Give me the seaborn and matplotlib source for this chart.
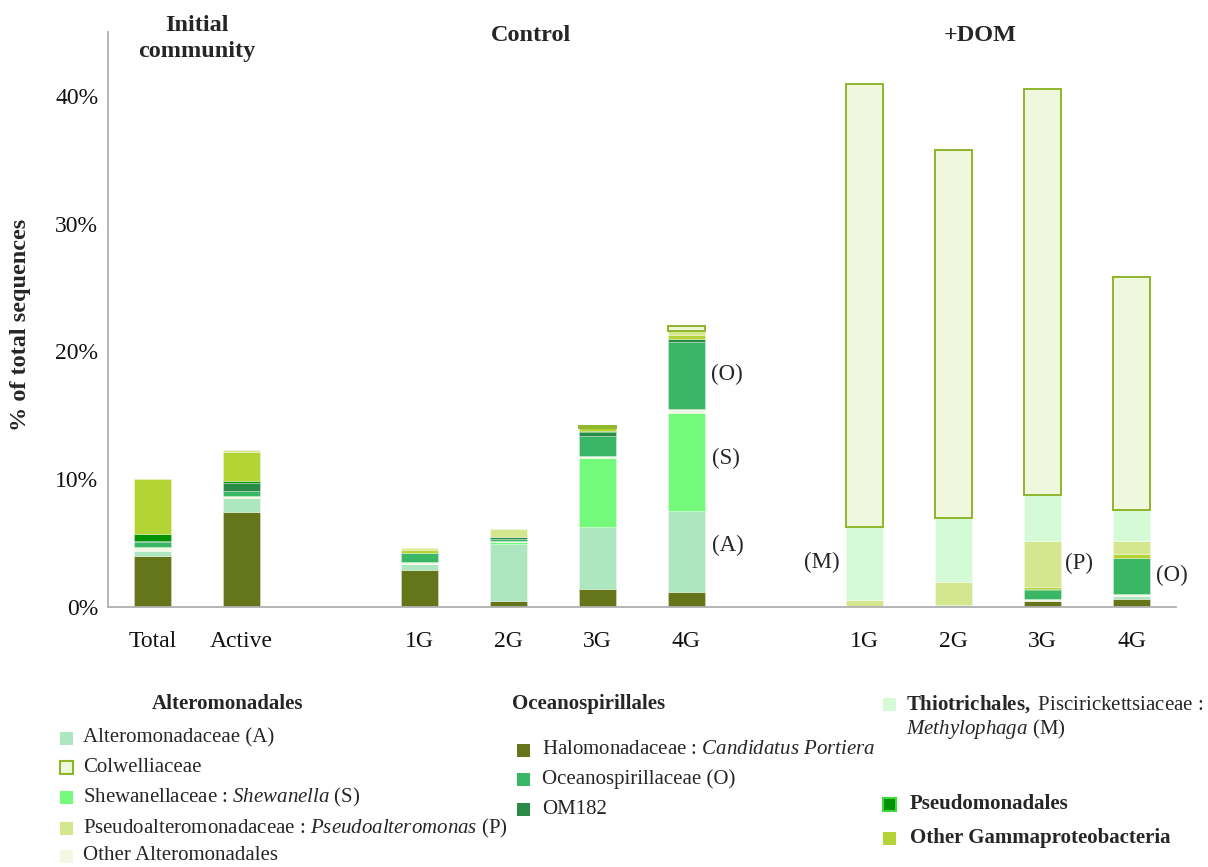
import numpy as np
import pandas as pd
import matplotlib
matplotlib.use("Agg")
import matplotlib.pyplot as plt
from matplotlib.patches import Rectangle
from matplotlib.colors import to_rgba
import seaborn as sns

# Bar slots (12 slots, two of them left empty as spacers)
slot_pos = [0, 1, 3, 4, 5, 6, 8, 9, 10, 11]
slot_labels = ["Total", "Active", "1G", "2G", "3G", "4G", "1G", "2G", "3G", "4G"]

# Taxa in stacking order (bottom -> top)
taxa = ["Halomonadaceae", "Alteromonadaceae", "Shewanellaceae", "Other Alteromonadales",
        "Oceanospirillaceae", "OM182", "Pseudomonadales", "Other Gammaproteobacteria",
        "Pseudoalteromonadaceae", "Methylophaga", "Colwelliaceae"]

# % of total sequences, one value per bar (Total, Active, Control 1G-4G, +DOM 1G-4G)
halomonadaceae = [4.0, 7.45, 2.9, 0.45, 1.4, 1.2, 0.0, 0.0, 0.5, 0.6]
alteromonadaceae = [0.4, 1.05, 0.5, 4.45, 4.85, 6.3, 0.0, 0.15, 0.0, 0.25]
shewanellaceae = [0.0, 0.05, 0.0, 0.18, 5.4, 7.7, 0.0, 0.0, 0.0, 0.0]
other_alteromonadales = [0.3, 0.1, 0.15, 0.06, 0.18, 0.26, 0.0, 0.0, 0.15, 0.2]
oceanospirillaceae = [0.35, 0.45, 0.7, 0.2, 1.55, 5.3, 0.0, 0.0, 0.65, 2.8]
om182 = [0.1, 0.57, 0.0, 0.1, 0.3, 0.2, 0.0, 0.0, 0.0, 0.0]
pseudomonadales = [0.6, 0.23, 0.0, 0.0, 0.1, 0.0, 0.0, 0.0, 0.13, 0.0]
other_gamma = [4.25, 2.2, 0.25, 0.0, 0.2, 0.3, 0.0, 0.0, 0.1, 0.26]
pseudoalteromonadaceae = [0.0, 0.2, 0.1, 0.7, 0.0, 0.35, 0.55, 1.8, 3.65, 1.05]
methylophaga = [0.0, 0.0, 0.0, 0.0, 0.0, 0.0, 5.7, 5.0, 3.57, 2.47]
colwelliaceae = [0.0, 0.0, 0.0, 0.0, 0.2, 0.4, 34.7, 28.8, 31.8, 18.2]

series = [halomonadaceae, alteromonadaceae, shewanellaceae, other_alteromonadales,
          oceanospirillaceae, om182, pseudomonadales, other_gamma,
          pseudoalteromonadaceae, methylophaga, colwelliaceae]

colors = {
    "Halomonadaceae": "#65761a",
    "Alteromonadaceae": "#ade7c0",
    "Shewanellaceae": "#74fa7a",
    "Other Alteromonadales": "#f3f8e2",
    "Oceanospirillaceae": "#3ab764",
    "OM182": "#2a8a48",
    "Pseudomonadales": "#009200",
    "Other Gammaproteobacteria": "#b3d434",
    "Pseudoalteromonadaceae": "#d4e78e",
    "Methylophaga": "#d4fbd6",
    "Colwelliaceae": "#eff7dd",
}
colwellia_edge = "#8fb52c"

rows = []
for name, vals in zip(taxa, series):
    for p, v in zip(slot_pos, vals):
        rows.append({"pos": p, "taxon": name, "pct": v})
df = pd.DataFrame(rows)

sns.set_style("white")
plt.rcParams["font.family"] = ["Liberation Serif", "DejaVu Serif"]
plt.rcParams["mathtext.fontset"] = "custom"
plt.rcParams["mathtext.rm"] = "Liberation Serif"
plt.rcParams["mathtext.it"] = "Liberation Serif:italic"
plt.rcParams["mathtext.bf"] = "Liberation Serif:bold"

W, H = 1208, 867
fig = plt.figure(figsize=(W / 100, H / 100), dpi=100)
ax = fig.add_axes([108 / W, 1 - 607 / H, (1176 - 108) / W, (607 - 32) / H])

# seaborn stacks the first hue level on top, so pass the order reversed
sns.histplot(data=df, x="pos", weights="pct", hue="taxon", hue_order=taxa[::-1],
             multiple="stack", discrete=True, shrink=0.42, palette=colors,
             alpha=1, linewidth=0, legend=False, ax=ax)

col_rgba = to_rgba(colors["Colwelliaceae"])
for patch in ax.patches:
    if patch.get_height() <= 0:
        continue
    if np.allclose(patch.get_facecolor(), col_rgba, atol=0.01):
        patch.set_edgecolor(colwellia_edge)
        patch.set_linewidth(1.4)
    else:
        patch.set_edgecolor((1, 1, 1, 0.35))
        patch.set_linewidth(0.6)

ax.set_xlim(-0.5, 11.5)
ax.set_ylim(0, 45)
ax.set_yticks([0, 10, 20, 30, 40])
ax.set_yticklabels(["0%", "10%", "20%", "30%", "40%"])
ax.set_xticks(slot_pos)
ax.set_xticklabels(slot_labels)
ax.set_xticks(np.arange(-0.5, 12, 1), minor=True)
ax.tick_params(axis="x", which="major", length=0, pad=17, labelsize=17, colors="#111111")
ax.tick_params(axis="x", which="minor", length=6, width=1, color="#aaaaaa", direction="out")
ax.tick_params(axis="y", length=4, width=1, color="#aaaaaa", direction="out", pad=3,
               labelsize=17, labelcolor="#111111")
ax.set_xlabel("")
ax.set_ylabel("% of total sequences", fontsize=17.5, fontweight="bold")
ax.yaxis.set_label_coords(-0.072, 0.49)
for s in ["top", "right"]:
    ax.spines[s].set_visible(False)
for s in ["left", "bottom"]:
    ax.spines[s].set_color("#b0b0b0")
    ax.spines[s].set_linewidth(1.3)

# group headers
ax.text(0.5, 44.5, "Initial\ncommunity", ha="center", va="center", fontsize=17.5,
        fontweight="bold", linespacing=1.3)
ax.text(4.25, 44.7, "Control", ha="center", va="center", fontsize=17.5, fontweight="bold")
ax.text(9.3, 44.7, "+DOM", ha="center", va="center", fontsize=17.5, fontweight="bold")

# segment annotations
ann = dict(fontsize=16.5, va="center")
ax.text(6.27, 18.2, "(O)", ha="left", **ann)
ax.text(6.29, 11.6, "(S)", ha="left", **ann)
ax.text(6.29, 4.8, "(A)", ha="left", **ann)
ax.text(7.72, 3.5, "(M)", ha="right", **ann)
ax.text(10.25, 3.4, "(P)", ha="left", **ann)
ax.text(11.27, 2.5, "(O)", ha="left", **ann)


# custom legend drawn in figure pixels
def fx(x):
    return x / W


def fy(y):
    return 1 - y / H


def swatch(x, y, color, edge=None):
    s = 13
    fig.add_artist(Rectangle((fx(x), fy(y + s / 2)), s / W, s / H, transform=fig.transFigure,
                             facecolor=color, edgecolor=edge if edge else "none",
                             linewidth=1.5 if edge else 0))


lfs = 15
fig.text(fx(228), fy(704), "Alteromonadales", ha="center", va="center", fontsize=lfs,
         fontweight="bold")
left_items = [
    ("Alteromonadaceae", "Alteromonadaceae (A)", 738),
    ("Colwelliaceae", "Colwelliaceae", 767),
    ("Shewanellaceae", r"Shewanellaceae : $\it{Shewanella}$ (S)", 797),
    ("Pseudoalteromonadaceae", r"Pseudoalteromonadaceae : $\it{Pseudoalteromonas}$ (P)", 828),
    ("Other Alteromonadales", "Other Alteromonadales", 856),
]
for key, label, y in left_items:
    swatch(60, y, colors[key], colwellia_edge if key == "Colwelliaceae" else None)
    fig.text(fx(83), fy(y), label, ha="left", va="center", fontsize=lfs)

fig.text(fx(589), fy(704), "Oceanospirillales", ha="center", va="center", fontsize=lfs,
         fontweight="bold")
mid_items = [
    ("Halomonadaceae", r"Halomonadaceae : $\it{Candidatus\ Portiera}$", 750),
    ("Oceanospirillaceae", "Oceanospirillaceae (O)", 779),
    ("OM182", "OM182", 809),
]
for key, label, y in mid_items:
    swatch(517, y, colors[key])
    fig.text(fx(542), fy(y), label, ha="left", va="center", fontsize=lfs)

swatch(883, 704, colors["Methylophaga"])
fig.text(fx(906), fy(704), r"$\bf{Thiotrichales,}$ Piscirickettsiaceae :", ha="left",
         va="center", fontsize=lfs)
fig.text(fx(906), fy(729), r"$\it{Methylophaga}$ (M)", ha="left", va="center", fontsize=lfs)

swatch(883, 804, colors["Pseudomonadales"], "#3fd83f")
fig.text(fx(910), fy(804), "Pseudomonadales", ha="left", va="center", fontsize=lfs,
         fontweight="bold")
swatch(883, 838, colors["Other Gammaproteobacteria"])
fig.text(fx(910), fy(838), "Other Gammaproteobacteria", ha="left", va="center",
         fontsize=lfs, fontweight="bold")

fig.savefig("out.png", dpi=100)
